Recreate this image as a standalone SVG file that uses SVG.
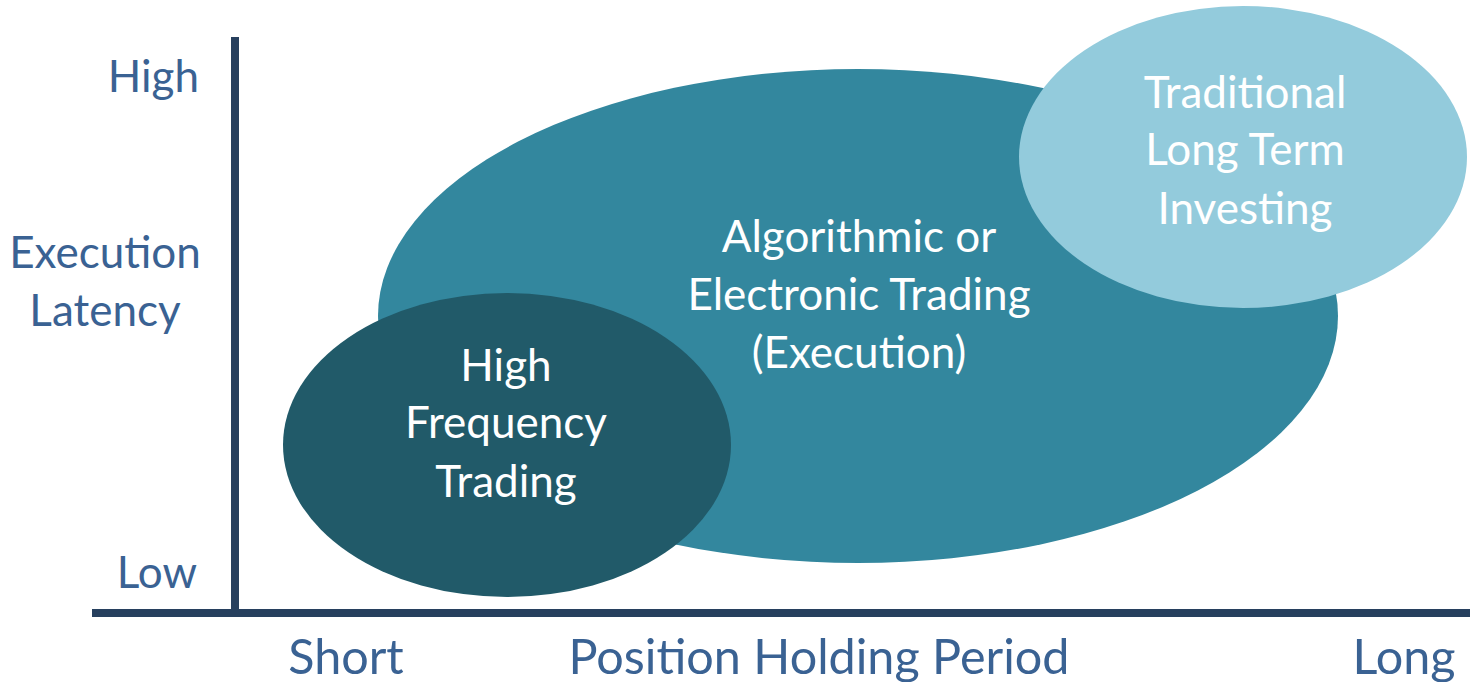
<svg xmlns="http://www.w3.org/2000/svg" width="1470" height="682" viewBox="0 0 1470 682">
<style>
.ax{font-family:Lato,"Noto Sans",sans-serif;font-size:44px;fill:#3a6293}
.bx{font-size:48.5px}
.in{font-family:Lato,"Noto Sans",sans-serif;font-size:44px;fill:#ffffff;text-anchor:middle}
</style>
<rect width="1470" height="682" fill="#ffffff"/>
<g id="algo">
<ellipse cx="858" cy="316" rx="480" ry="247" fill="#33879e"/>
<text class="in" x="859" y="252">Algorithmic or</text>
<text class="in" x="859" y="310">Electronic Trading</text>
<text class="in" x="859" y="368">(Execution)</text>
</g>
<g id="hft">
<ellipse cx="507" cy="445" rx="224" ry="152" fill="#215a69"/>
<text class="in" x="506" y="381">High</text>
<text class="in" x="506" y="438">Frequency</text>
<text class="in" x="506" y="497">Trading</text>
</g>
<g id="trad">
<ellipse cx="1243" cy="157" rx="224" ry="151" fill="#93cbdc"/>
<text class="in" x="1245" y="108">Traditional</text>
<text class="in" x="1245" y="165">Long Term</text>
<text class="in" x="1245" y="224">Investing</text>
</g>
<g id="axes">
<line x1="235" y1="37" x2="235" y2="613" stroke="#27405e" stroke-width="8"/>
<line x1="92" y1="613" x2="1470" y2="613" stroke="#27405e" stroke-width="8"/>
</g>
<g id="labels">
<text class="ax" x="199" y="92" text-anchor="end">High</text>
<text class="ax" x="105" y="268" text-anchor="middle">Execution</text>
<text class="ax" x="105" y="326" text-anchor="middle">Latency</text>
<text class="ax" x="197" y="588" text-anchor="end">Low</text>
<text class="ax bx" x="346" y="674" text-anchor="middle">Short</text>
<text class="ax bx" x="819" y="674" text-anchor="middle">Position Holding Period</text>
<text class="ax bx" x="1404" y="674" text-anchor="middle">Long</text>
</g>
</svg>
